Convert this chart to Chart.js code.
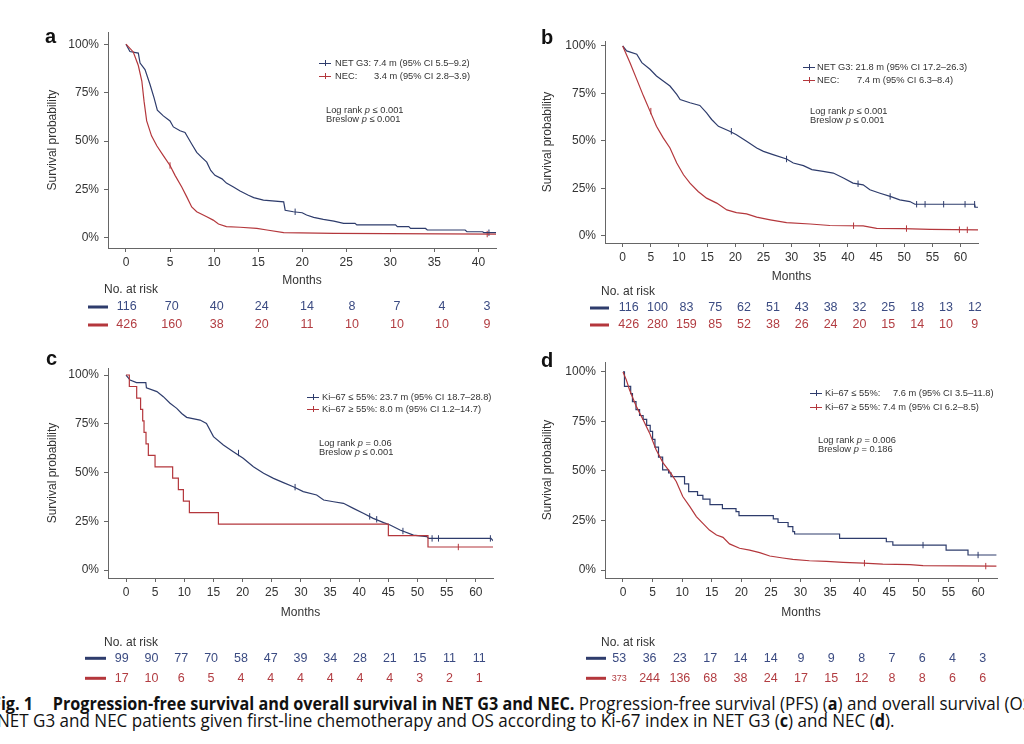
<!DOCTYPE html>
<html>
<head>
<meta charset="utf-8">
<title>Fig. 1</title>
<script src="https://cdn.jsdelivr.net/npm/chart.js@4.4.1/dist/chart.umd.min.js"></script>
<style>
  body { margin:0; width:1024px; height:744px; overflow:hidden; background:#fff; position:relative; font-family:"Liberation Sans", Arial, sans-serif; color:#333; }
  canvas { position:absolute; }
  .letter { position:absolute; font-weight:bold; font-size:20px; line-height:20px; color:#111; }
  .leg { position:absolute; font-size:9.3px; line-height:12px; height:12px; white-space:nowrap; color:#333; }
  .leg .mk { position:absolute; left:0; top:5.5px; width:12px; height:1.3px; }
  .leg .mk::after { content:""; position:absolute; left:5.5px; top:-2.4px; width:1px; height:6px; background:inherit; }
  .leg .val { position:absolute; top:0; }
  .pval { position:absolute; font-size:9.3px; line-height:9.3px; white-space:nowrap; color:#333; }
  .cap { position:absolute; font-family:"Open Sans", sans-serif; font-size:18.5px; line-height:16.7px; white-space:nowrap; color:#111; transform:scaleX(0.92); transform-origin:0 0; }
  .cap b { font-size:17.6px; }
  .cap .fig { display:inline-block; width:66px; }
</style>
</head>
<body>
<canvas id="chartA" width="510" height="320" style="left:0;top:20px"></canvas>
<canvas id="chartB" width="514" height="320" style="left:510px;top:20px"></canvas>
<canvas id="chartC" width="510" height="350" style="left:0;top:340px"></canvas>
<canvas id="chartD" width="514" height="350" style="left:510px;top:340px"></canvas>

<div class="letter" style="left:45px;top:26px">a</div>
<div class="letter" style="left:541px;top:27px">b</div>
<div class="letter" style="left:46px;top:348px">c</div>
<div class="letter" style="left:541px;top:350px">d</div>

<div class="leg" style="left:319px;top:57px;padding-left:16px"><i class="mk" style="background:#2e3c6c"></i>NET G3: 7.4 m (95% CI 5.5–9.2)</div>
<div class="leg" style="left:319px;top:70px;padding-left:16px"><i class="mk" style="background:#b4373c"></i>NEC:<span class="val" style="left:55px">3.4 m (95% CI 2.8–3.9)</span></div>
<div class="pval" style="left:326px;top:106px">Log rank <i>p</i> ≤ 0.001<br>Breslow <i>p</i> ≤ 0.001</div>

<div class="leg" style="left:803px;top:61px;padding-left:14px"><i class="mk" style="background:#2e3c6c"></i>NET G3: 21.8 m (95% CI 17.2–26.3)</div>
<div class="leg" style="left:803px;top:74px;padding-left:14px"><i class="mk" style="background:#b4373c"></i>NEC:<span class="val" style="left:54px">7.4 m (95% CI 6.3–8.4)</span></div>
<div class="pval" style="left:810px;top:107px">Log rank <i>p</i> ≤ 0.001<br>Breslow <i>p</i> ≤ 0.001</div>

<div class="leg" style="left:307px;top:391px;padding-left:15px"><i class="mk" style="background:#2e3c6c"></i>Ki–67 ≤ 55%: 23.7 m (95% CI 18.7–28.8)</div>
<div class="leg" style="left:307px;top:403px;padding-left:15px"><i class="mk" style="background:#b4373c"></i>Ki–67 ≥ 55%: 8.0 m (95% CI 1.2–14.7)</div>
<div class="pval" style="left:319px;top:439px">Log rank <i>p</i> = 0.06<br>Breslow <i>p</i> ≤ 0.001</div>

<div class="leg" style="left:810px;top:387px;padding-left:15px"><i class="mk" style="background:#2e3c6c"></i>Ki–67 ≤ 55%:<span class="val" style="left:83px">7.6 m (95% CI 3.5–11.8)</span></div>
<div class="leg" style="left:810px;top:401px;padding-left:15px"><i class="mk" style="background:#b4373c"></i>Ki–67 ≥ 55%: 7.4 m (95% CI 6.2–8.5)</div>
<div class="pval" style="left:818px;top:436px">Log rank <i>p</i> = 0.006<br>Breslow <i>p</i> = 0.186</div>

<div class="cap" style="left:-8px;top:695px"><b class="fig">Fig. 1</b><b>Progression-free survival and overall survival in NET G3 and NEC.</b> Progression-free survival (PFS) (<b>a</b>) and overall survival (OS) in</div>
<div class="cap" style="left:-3px;top:712px">NET G3 and NEC patients given first-line chemotherapy and OS according to Ki-67 index in NET G3 (<b>c</b>) and NEC (<b>d</b>).</div>

<script>
// a : PFS, NET G3 vs NEC
const aTicks = [0, 5, 10, 15, 20, 25, 30, 35, 40]
const aNetMonths = [0, 0.45, 1.4, 1.6, 2.16, 2.73, 3.18, 3.56, 4.24, 5.0, 5.38, 6.14, 6.7, 7.46, 8.03, 8.6, 9.17, 9.62, 10.1, 10.9, 11.4, 12.2, 12.95, 13.9, 14.5, 15.6, 17.9, 18.07, 19.0, 20.0, 20.5, 21.3, 22.4, 23.6, 24.7, 26.0, 26.2, 30.6, 30.8, 32.1, 32.3, 34.0, 34.2, 38.5, 38.7, 40.5, 40.6, 42]
const aNetSurv = [1, 0.962, 0.954, 0.903, 0.869, 0.792, 0.724, 0.659, 0.630, 0.604, 0.573, 0.553, 0.544, 0.485, 0.442, 0.416, 0.391, 0.348, 0.323, 0.305, 0.283, 0.263, 0.242, 0.220, 0.208, 0.195, 0.186, 0.143, 0.135, 0.130, 0.118, 0.106, 0.096, 0.087, 0.075, 0.075, 0.067, 0.067, 0.058, 0.058, 0.049, 0.049, 0.041, 0.041, 0.032, 0.032, 0.027, 0.027]
const aNecMonths = [0, 0.83, 1.4, 1.8, 2.05, 2.35, 2.9, 3.5, 4.24, 5.0, 5.57, 6.33, 6.9, 7.46, 8.03, 9.17, 9.9, 10.5, 11.4, 12.95, 14.85, 16.0, 17.9, 23.6, 42]
const aNecSurv = [1, 0.96, 0.89, 0.81, 0.706, 0.604, 0.527, 0.476, 0.425, 0.374, 0.323, 0.263, 0.212, 0.16, 0.135, 0.109, 0.092, 0.072, 0.058, 0.055, 0.049, 0.041, 0.027, 0.024, 0.020]
const aNetCensorMonths = [19.2, 41.2]
const aNetCensorSurv = [0.135, 0.027]
const aNecCensorMonths = [5.0, 41.0]
const aNecCensorSurv = [0.374, 0.020]
const aRiskNet = [116, 70, 40, 24, 14, 8, 7, 4, 3]
const aRiskNec = [426, 160, 38, 20, 11, 10, 10, 10, 9]

// b : OS, NET G3 vs NEC
const bTicks = [0, 5, 10, 15, 20, 25, 30, 35, 40, 45, 50, 55, 60]
const bNetMonths = [0, 0.7, 2.5, 3.4, 4.85, 6.0, 7.2, 8.4, 9.6, 10.2, 11.95, 13.7, 14.9, 15.8, 17.0, 19.0, 20.2, 22.0, 23.8, 25.0, 26.7, 29.1, 30.3, 32.1, 33.6, 35.6, 37.4, 39.2, 40.9, 42.7, 43.9, 45.7, 47.5, 49.2, 51.0, 51.9, 62.5, 62.6, 63.1]
const bNetSurv = [1, 0.974, 0.956, 0.912, 0.877, 0.842, 0.815, 0.789, 0.745, 0.718, 0.701, 0.687, 0.648, 0.613, 0.577, 0.551, 0.533, 0.498, 0.463, 0.445, 0.428, 0.405, 0.384, 0.370, 0.349, 0.340, 0.331, 0.305, 0.278, 0.269, 0.243, 0.225, 0.208, 0.190, 0.181, 0.167, 0.167, 0.151, 0.151]
const bNecMonths = [0, 1.3, 2.5, 3.7, 4.85, 6.0, 7.2, 8.4, 9.6, 10.8, 11.95, 13.4, 14.9, 16.7, 18.5, 20.2, 22.0, 23.8, 26.2, 29.1, 33.3, 36.8, 42.7, 45.1, 49.8, 54.6, 63.1]
const bNecSurv = [1, 0.912, 0.824, 0.736, 0.657, 0.577, 0.516, 0.463, 0.384, 0.322, 0.278, 0.234, 0.199, 0.173, 0.137, 0.123, 0.116, 0.099, 0.085, 0.070, 0.063, 0.055, 0.053, 0.040, 0.039, 0.035, 0.032]
const bNetCensorMonths = [19.3, 29.1, 41.8, 47.5, 52.2, 53.7, 57.0, 60.8, 62.5]
const bNetCensorSurv = [0.551, 0.405, 0.275, 0.208, 0.167, 0.167, 0.167, 0.167, 0.167]
const bNecCensorMonths = [5.0, 41.0, 50.4, 59.8, 61.2]
const bNecCensorSurv = [0.657, 0.054, 0.039, 0.033, 0.032]
const bRiskNet = [116, 100, 83, 75, 62, 51, 43, 38, 32, 25, 18, 13, 12]
const bRiskNec = [426, 280, 159, 85, 52, 38, 26, 24, 20, 15, 14, 10, 9]

// c : OS by Ki-67 in NET G3
const cTicks = [0, 5, 10, 15, 20, 25, 30, 35, 40, 45, 50, 55, 60]
const cLowMonths = [0, 0.7, 1.8, 3.4, 3.5, 5.3, 6.4, 7.55, 8.7, 9.55, 10.4, 12.7, 13.8, 15.0, 16.7, 18.4, 20.1, 21.85, 23.6, 25.3, 27.0, 28.7, 30.4, 32.7, 33.9, 35.6, 37.3, 39.0, 40.7, 42.4, 44.2, 45.3, 47.0, 49.3, 51.6, 51.9, 62.6, 63.0]
const cLowSurv = [1, 0.974, 0.961, 0.961, 0.935, 0.915, 0.889, 0.855, 0.829, 0.803, 0.783, 0.769, 0.752, 0.684, 0.641, 0.607, 0.573, 0.530, 0.496, 0.470, 0.448, 0.427, 0.402, 0.385, 0.359, 0.350, 0.342, 0.316, 0.291, 0.265, 0.243, 0.231, 0.205, 0.179, 0.171, 0.162, 0.162, 0.149]
const cHighMonths = [0, 0.57, 1.83, 2.5, 2.86, 3.09, 3.43, 3.83, 4.98, 8.0, 8.98, 9.84, 10.87, 15.85, 45.0, 51.8, 63.0]
const cHighSurv = [1, 0.941, 0.882, 0.824, 0.765, 0.706, 0.647, 0.588, 0.529, 0.471, 0.412, 0.353, 0.294, 0.235, 0.176, 0.118, 0.118]
const cLowCensorMonths = [19.3, 29.0, 41.8, 43.0, 47.5, 52.5, 53.6, 62.5]
const cLowCensorSurv = [0.600, 0.425, 0.275, 0.260, 0.200, 0.162, 0.162, 0.162]
const cHighCensorMonths = [57.0]
const cHighCensorSurv = [0.118]
const cRiskLow = [99, 90, 77, 70, 58, 47, 39, 34, 28, 21, 15, 11, 11]
const cRiskHigh = [17, 10, 6, 5, 4, 4, 4, 4, 4, 4, 3, 2, 1]

// d : OS by Ki-67 in NEC
const dTicks = [0, 5, 10, 15, 20, 25, 30, 35, 40, 45, 50, 55, 60]
const dLowMonths = [0, 0.25, 1.3, 1.6, 2.2, 2.8, 3.4, 4.0, 4.6, 5.0, 5.4, 6.0, 6.7, 7.7, 8.1, 10.4, 11.1, 12.6, 13.5, 14.7, 16.8, 19.1, 19.6, 25.4, 26.2, 27.9, 28.7, 29.0, 36.6, 44.5, 45.6, 54.6, 58.3, 63.1]
const dLowSurv = [1, 0.927, 0.89, 0.85, 0.81, 0.78, 0.76, 0.73, 0.70, 0.66, 0.62, 0.57, 0.506, 0.49, 0.472, 0.435, 0.396, 0.377, 0.358, 0.33, 0.31, 0.295, 0.275, 0.258, 0.24, 0.219, 0.194, 0.182, 0.16, 0.143, 0.126, 0.101, 0.076, 0.076]
const dHighMonths = [0, 0.56, 1.1, 2.25, 3.4, 4.5, 5.6, 6.8, 7.9, 9.0, 10.1, 11.3, 12.4, 13.5, 14.6, 15.8, 16.9, 18.0, 19.7, 21.4, 23.1, 24.8, 27.0, 28.7, 31.5, 34.4, 37.2, 40.6, 43.9, 48.5, 50.7, 63.1]
const dHighSurv = [1, 0.96, 0.91, 0.826, 0.759, 0.691, 0.607, 0.54, 0.497, 0.447, 0.371, 0.32, 0.27, 0.236, 0.202, 0.177, 0.165, 0.132, 0.11, 0.101, 0.088, 0.071, 0.061, 0.054, 0.047, 0.044, 0.039, 0.035, 0.030, 0.027, 0.022, 0.020]
const dLowCensorMonths = [50.7, 60.0]
const dLowCensorSurv = [0.126, 0.076]
const dHighCensorMonths = [40.8, 61.3]
const dHighCensorSurv = [0.035, 0.020]
const dRiskLow = [53, 36, 23, 17, 14, 14, 9, 9, 8, 7, 6, 4, 3]
const dRiskHigh = [373, 244, 136, 68, 38, 24, 17, 15, 12, 8, 8, 6, 6]

const BLUE = '#2e3c6c'
const RED = '#b4373c'
const BLUE_TXT = '#3b4b82'
const RED_TXT = '#b23d42'
const AXIS = '#666'
const FONT = '"Liberation Sans", Arial, sans-serif'

const pts = (xs, ys) => xs.map((x, i) => ({ x: x, y: ys[i] }))

// number-at-risk rows under the x axis, placed with the chart's own x scale
const riskTable = {
    id: 'riskTable',
    afterDraw(chart, args, opts) {
        const ctx = chart.ctx
        const xScale = chart.scales.x
        const base = chart.chartArea.bottom
        const last = opts.months[opts.months.length - 1]
        ctx.save()
        ctx.textBaseline = 'middle'
        ctx.textAlign = 'left'
        ctx.font = '12px ' + FONT
        ctx.fillStyle = '#333'
        ctx.fillText('No. at risk', opts.headerX, base + opts.headerY)
        opts.rows.forEach((row, r) => {
            const y = base + opts.rowY[r]
            ctx.fillStyle = row.line
            ctx.fillRect(opts.markX[0], y - 1.5, opts.markX[1] - opts.markX[0], 3)
            ctx.textAlign = 'center'
            ctx.fillStyle = row.text
            row.values.forEach((v, i) => {
                const t = opts.months[i]
                const x = xScale.getPixelForValue(t) + opts.shift + opts.stretch * t / last
                ctx.font = ((i === 0 && row.firstSize) || 12.5) + 'px ' + FONT
                ctx.fillText(String(v), x, y)
            })
        })
        ctx.restore()
    }
}

const curve = (data, color, stepped) => ({
    data: data, borderColor: color, borderWidth: 1.2, pointRadius: 0,
    stepped: stepped, tension: 0, fill: false
})

const censor = (data, color) => ({
    data: data, showLine: false, pointStyle: 'line', rotation: 90,
    pointRadius: 3.2, borderColor: color, pointBorderColor: color, pointBorderWidth: 1
})

function makeChart(id, p) {
    new Chart(document.getElementById(id), {
        type: 'line',
        data: { datasets: p.datasets },
        plugins: [riskTable],
        options: {
            responsive: false,
            animation: false,
            events: [],
            layout: { padding: p.padding },
            plugins: {
                legend: { display: false },
                tooltip: { enabled: false },
                riskTable: p.risk
            },
            scales: {
                x: {
                    type: 'linear', min: p.xMin, max: p.xMax,
                    afterBuildTicks: s => { s.ticks = p.ticks.map(v => ({ value: v })) },
                    afterFit: s => { s.height = p.xHeight },
                    grid: { drawOnChartArea: false, drawTicks: true, tickLength: 4, color: AXIS },
                    border: { display: true, color: AXIS, width: 1 },
                    ticks: { font: { size: 12, family: FONT }, color: '#333', padding: 3, maxRotation: 0, autoSkip: false },
                    title: { display: true, text: 'Months', font: { size: 12, family: FONT }, color: '#333', padding: 0 }
                },
                y: {
                    type: 'linear', min: p.yMin, max: p.yMax,
                    afterBuildTicks: s => { s.ticks = [0, 0.25, 0.5, 0.75, 1].map(v => ({ value: v })) },
                    afterFit: s => { s.width = p.yWidth },
                    grid: { drawOnChartArea: false, drawTicks: true, tickLength: 4, color: AXIS },
                    border: { display: true, color: AXIS, width: 1 },
                    ticks: { font: { size: 12, family: FONT }, color: '#333', padding: 5, callback: v => Math.round(v * 100) + '%' },
                    title: { display: true, text: 'Survival probability', font: { size: 12, family: FONT }, color: '#333', padding: 0 }
                }
            }
        }
    })
}

makeChart('chartA', {
    xMin: -2.04, xMax: 42, yMin: -0.052, yMax: 1.062, ticks: aTicks,
    yWidth: 62.5, xHeight: 40,
    padding: { left: 45.5, right: 14, top: 12, bottom: 52 },
    datasets: [
        curve(pts(aNecMonths, aNecSurv), RED, false),
        curve(pts(aNetMonths, aNetSurv), BLUE, false),
        censor(pts(aNecCensorMonths, aNecCensorSurv), RED),
        censor(pts(aNetCensorMonths, aNetCensorSurv), BLUE)
    ],
    risk: {
        months: aTicks, headerX: 104, headerY: 42, rowY: [59, 77], markX: [88, 108], shift: 0.7, stretch: 8,
        rows: [{ values: aRiskNet, line: BLUE, text: BLUE_TXT }, { values: aRiskNec, line: RED, text: RED_TXT }]
    }
})

makeChart('chartB', {
    xMin: -3.14, xMax: 63.1, yMin: -0.037, yMax: 1.026, ticks: bTicks,
    yWidth: 64.2, xHeight: 41,
    padding: { left: 30.8, right: 46, top: 21, bottom: 56 },
    datasets: [
        curve(pts(bNecMonths, bNecSurv), RED, false),
        curve(pts(bNetMonths, bNetSurv), BLUE, false),
        censor(pts(bNecCensorMonths, bNecCensorSurv), RED),
        censor(pts(bNetCensorMonths, bNetCensorSurv), BLUE)
    ],
    risk: {
        months: bTicks, headerX: 91, headerY: 49, rowY: [65, 82], markX: [80, 99], shift: 6, stretch: 8.3,
        rows: [{ values: bRiskNet, line: BLUE, text: BLUE_TXT }, { values: bRiskNec, line: RED, text: RED_TXT }]
    }
})

makeChart('chartC', {
    xMin: -3.09, xMax: 62.95, yMin: -0.041, yMax: 1.036, ticks: cTicks,
    yWidth: 62.5, xHeight: 42,
    padding: { left: 45.5, right: 17, top: 28, bottom: 70 },
    datasets: [
        curve(pts(cHighMonths, cHighSurv), RED, 'before'),
        curve(pts(cLowMonths, cLowSurv), BLUE, false),
        censor(pts(cHighCensorMonths, cHighCensorSurv), RED),
        censor(pts(cLowCensorMonths, cLowCensorSurv), BLUE)
    ],
    risk: {
        months: cTicks, headerX: 104, headerY: 64.7, rowY: [80.3, 100.3], markX: [85, 106], shift: -4.3, stretch: 7.7,
        rows: [{ values: cRiskLow, line: BLUE, text: BLUE_TXT }, { values: cRiskHigh, line: RED, text: RED_TXT }]
    }
})

makeChart('chartD', {
    xMin: -3.04, xMax: 63.2, yMin: -0.04, yMax: 1.05, ticks: dTicks,
    yWidth: 64.2, xHeight: 42,
    padding: { left: 30.8, right: 27, top: 22, bottom: 70 },
    datasets: [
        curve(pts(dHighMonths, dHighSurv), RED, false),
        curve(pts(dLowMonths, dLowSurv), BLUE, 'before'),
        censor(pts(dHighCensorMonths, dHighCensorSurv), RED),
        censor(pts(dLowCensorMonths, dLowCensorSurv), BLUE)
    ],
    risk: {
        months: dTicks, headerX: 91, headerY: 64.7, rowY: [80.3, 100.3], markX: [76, 96], shift: -3.7, stretch: 8.4,
        rows: [{ values: dRiskLow, line: BLUE, text: BLUE_TXT }, { values: dRiskHigh, line: RED, text: RED_TXT, firstSize: 9 }]
    }
})
</script>
</body>
</html>
